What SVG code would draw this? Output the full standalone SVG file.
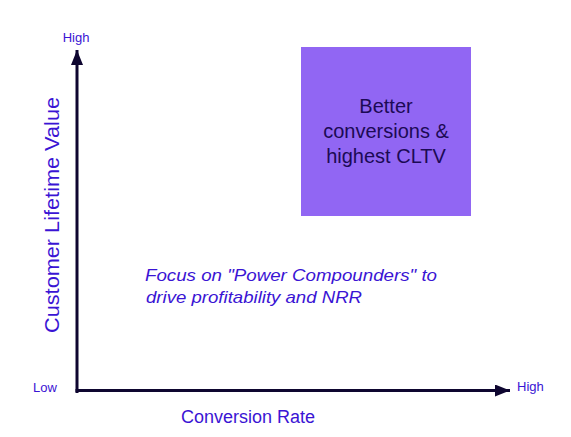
<svg xmlns="http://www.w3.org/2000/svg" width="571" height="437" viewBox="0 0 571 437">
  <style>
    .lbl { font-family: "Liberation Sans", Arial, sans-serif; fill: #3a14d4; }
    .small { font-size: 13px; }
    .axis { stroke: #0e0630; stroke-width: 3; fill: none; }
    .boxtxt { font-family: "Liberation Sans", Arial, sans-serif; font-size: 20px; fill: #1c0a55; text-anchor: middle; }
  </style>
  <defs>
    <marker id="arrow" viewBox="0 0 15 12" refX="15" refY="6" markerWidth="15" markerHeight="12" markerUnits="userSpaceOnUse" orient="auto">
      <path d="M0,0 L15,6 L0,12 Z" fill="#0e0630"/>
    </marker>
  </defs>
  <rect width="571" height="437" fill="#ffffff"/>

  <g id="connectors">
    <line class="axis" x1="77" y1="393" x2="77" y2="50" marker-end="url(#arrow)"/>
    <line class="axis" x1="75.5" y1="390.5" x2="510" y2="390.5" marker-end="url(#arrow)"/>
  </g>

  <g id="axis-labels">
    <text class="lbl small" x="76" y="42" text-anchor="middle">High</text>
    <text class="lbl small" x="33" y="392">Low</text>
    <text class="lbl small" x="517" y="391">High</text>
    <text class="lbl" x="248" y="423" font-size="18" text-anchor="middle">Conversion Rate</text>
    <text class="lbl" font-size="21" text-anchor="middle" textLength="236" lengthAdjust="spacingAndGlyphs" transform="translate(59,215) rotate(-90)">Customer Lifetime Value</text>
  </g>

  <g id="quadrant-box">
    <rect x="301" y="47" width="170" height="169" fill="#9166f3"/>
    <text class="boxtxt" x="386" y="113">Better</text>
    <text class="boxtxt" x="386" y="138">conversions &amp;</text>
    <text class="boxtxt" x="386" y="163">highest CLTV</text>
  </g>

  <g id="note">
    <text class="lbl" font-size="17" font-style="italic" x="145" y="281" textLength="292" lengthAdjust="spacingAndGlyphs">Focus on "Power Compounders" to</text>
    <text class="lbl" font-size="17" font-style="italic" x="146" y="303" textLength="216" lengthAdjust="spacingAndGlyphs">drive profitability and NRR</text>
  </g>
</svg>
